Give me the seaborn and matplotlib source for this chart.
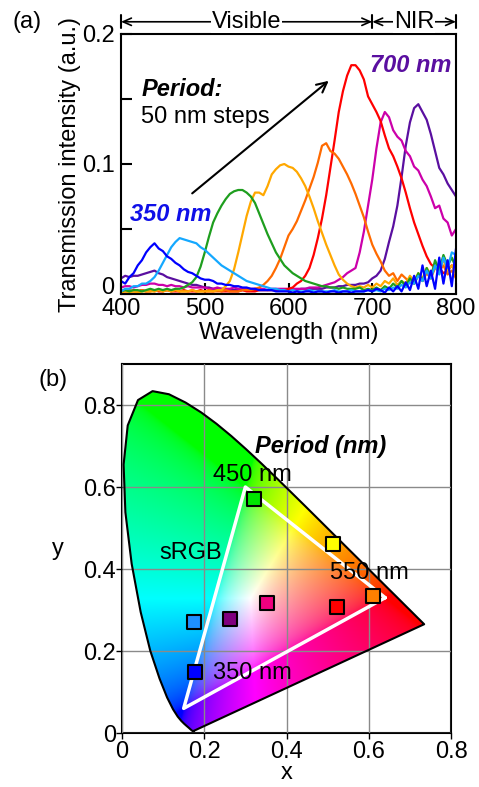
import numpy as np
import pandas as pd
import matplotlib
matplotlib.use("Agg")
import matplotlib.pyplot as plt
import matplotlib.transforms as mtransforms
from matplotlib.patches import Polygon
import seaborn as sns

# ---------------- (a) transmission spectra ----------------
wavelength = list(range(400, 801, 5))
periods = ["350 nm", "400 nm", "450 nm", "500 nm", "550 nm", "600 nm", "650 nm", "700 nm"]

spec_350 = [.010, .008, .013, .016, .022, .026, .032, .036, .039, .035,
            .033, .029, .027, .024, .022, .019, .017, .016, .014, .012,
            .011, .011, .010, .008, .008, .007, .007, .006, .006, .005,
            .005, .004, .004, .003, .003, .003, .003, .002, .002, .002,
            .002, .001, .002, .001, .002, .002, .001, .002, .002, .001,
            .002, .002, .001, .002, .002, .001, .002, .002, .002, .003,
            .002, .004, .003, .001, .005, .002, .006, .002, .009, .003,
            .014, .004, .022, .006, .018, .004, .028, .008, .026, .006,
            .035]
spec_400 = [.002, .004, .004, .006, .006, .008, .008, .010, .013, .018,
            .024, .030, .036, .040, .043, .042, .041, .040, .039, .036,
            .034, .031, .028, .025, .022, .020, .018, .016, .014, .012,
            .010, .009, .008, .007, .006, .005, .004, .004, .003, .003,
            .002, .003, .002, .002, .002, .003, .002, .002, .002, .002,
            .002, .003, .002, .002, .002, .003, .002, .002, .002, .003,
            .002, .003, .002, .004, .003, .005, .004, .007, .005, .009,
            .008, .014, .010, .018, .012, .022, .015, .028, .020, .032,
            .030]
spec_450 = [.002, .003, .002, .003, .003, .002, .003, .004, .003, .004,
            .003, .004, .003, .004, .004, .005, .007, .009, .013, .021,
            .032, .044, .055, .062, .068, .073, .077, .079, .080, .080,
            .078, .075, .070, .062, .054, .046, .039, .032, .027, .022,
            .019, .016, .014, .012, .010, .009, .008, .007, .006, .006,
            .005, .005, .004, .005, .004, .004, .004, .005, .003, .004,
            .003, .005, .003, .006, .004, .008, .005, .010, .006, .012,
            .008, .016, .010, .020, .012, .026, .018, .030, .022, .028,
            .020]
spec_500 = [.001, .002, .001, .002, .001, .002, .002, .002, .002, .003,
            .002, .003, .002, .003, .002, .002, .002, .003, .002, .002,
            .002, .002, .002, .003, .003, .006, .010, .019, .032, .046,
            .060, .071, .078, .078, .076, .083, .092, .096, .099, .100,
            .098, .097, .094, .089, .083, .075, .066, .056, .047, .038,
            .030, .022, .015, .011, .008, .006, .005, .006, .005, .007,
            .005, .008, .006, .010, .008, .012, .007, .010, .008, .014,
            .010, .016, .012, .020, .015, .024, .020, .026, .018, .022,
            .015]
spec_550 = [.002, .003, .002, .003, .002, .003, .002, .003, .002, .003,
            .002, .003, .002, .003, .002, .002, .002, .003, .002, .002,
            .002, .003, .002, .002, .002, .003, .002, .002, .002, .003,
            .003, .003, .004, .005, .007, .010, .014, .020, .027, .036,
            .045, .050, .056, .064, .072, .081, .090, .101, .114, .116,
            .110, .108, .104, .098, .092, .085, .077, .068, .059, .048,
            .038, .031, .025, .018, .014, .016, .010, .015, .012, .009,
            .008, .014, .010, .016, .012, .020, .018, .022, .015, .018,
            .012]
spec_600 = [.003, .002, .003, .002, .002, .003, .002, .002, .003, .002,
            .002, .003, .002, .002, .002, .003, .002, .002, .002, .003,
            .002, .002, .002, .003, .002, .002, .002, .002, .002, .003,
            .002, .002, .002, .003, .003, .003, .003, .003, .003, .003,
            .004, .005, .008, .010, .014, .020, .030, .043, .058, .076,
            .097, .118, .140, .156, .168, .176, .176, .172, .165, .152,
            .146, .140, .133, .122, .112, .106, .098, .089, .078, .066,
            .055, .046, .037, .029, .023, .020, .020, .016, .018, .022,
            .020]
spec_650 = [.005, .006, .006, .005, .006, .007, .007, .008, .008, .007,
            .007, .006, .007, .006, .006, .005, .006, .005, .005, .005,
            .005, .004, .004, .005, .004, .004, .004, .005, .004, .004,
            .004, .004, .004, .004, .004, .003, .004, .004, .004, .004,
            .004, .004, .004, .004, .004, .005, .005, .005, .006, .007,
            .008, .009, .011, .013, .016, .018, .020, .032, .048, .068,
            .088, .112, .132, .140, .136, .126, .121, .118, .110, .106,
            .098, .095, .088, .083, .075, .066, .068, .058, .055, .045,
            .050]
spec_700 = [.012, .014, .013, .014, .014, .015, .016, .017, .018, .016,
            .015, .013, .012, .011, .010, .009, .008, .007, .007, .006,
            .005, .005, .004, .004, .004, .004, .003, .003, .003, .003,
            .003, .003, .003, .003, .003, .003, .003, .003, .003, .003,
            .003, .003, .003, .004, .004, .004, .004, .004, .004, .005,
            .005, .005, .006, .006, .007, .007, .007, .008, .008, .009,
            .012, .014, .018, .027, .040, .052, .068, .090, .114, .132,
            .143, .146, .140, .134, .123, .110, .097, .092, .085, .080,
            .075]
spectra = [spec_350, spec_400, spec_450, spec_500, spec_550, spec_600, spec_650, spec_700]
line_colors = ["#0000FF", "#14A8FF", "#1E9E1E", "#FFA800", "#FF6A00", "#FF0000", "#CC00AA", "#5A0FA0"]

# ---------------- (b) chromaticity ----------------
locus_x = [0.1741, 0.1740, 0.1738, 0.1736, 0.1733, 0.1730, 0.1726, 0.1721, 0.1714, 0.1703,
           0.1689, 0.1669, 0.1644, 0.1611, 0.1566, 0.1510, 0.1440, 0.1355, 0.1241, 0.1096,
           0.0913, 0.0687, 0.0454, 0.0235, 0.0082, 0.0039, 0.0139, 0.0389, 0.0743, 0.1142,
           0.1547, 0.1929, 0.2296, 0.2658, 0.3016, 0.3373, 0.3731, 0.4087, 0.4441, 0.4788,
           0.5125, 0.5448, 0.5752, 0.6029, 0.6270, 0.6482, 0.6658, 0.6801, 0.6915, 0.7006,
           0.7079, 0.7140, 0.7190, 0.7230, 0.7260, 0.7283, 0.7300, 0.7311, 0.7320, 0.7327,
           0.7334, 0.7344, 0.7347]
locus_y = [0.0050, 0.0050, 0.0049, 0.0049, 0.0048, 0.0048, 0.0048, 0.0048, 0.0051, 0.0058,
           0.0069, 0.0086, 0.0109, 0.0138, 0.0177, 0.0227, 0.0297, 0.0399, 0.0578, 0.0868,
           0.1327, 0.2007, 0.2950, 0.4127, 0.5384, 0.6548, 0.7502, 0.8120, 0.8338, 0.8262,
           0.8059, 0.7816, 0.7543, 0.7243, 0.6923, 0.6589, 0.6245, 0.5896, 0.5547, 0.5202,
           0.4866, 0.4544, 0.4242, 0.3965, 0.3725, 0.3514, 0.3340, 0.3197, 0.3083, 0.2993,
           0.2920, 0.2859, 0.2809, 0.2770, 0.2740, 0.2717, 0.2700, 0.2689, 0.2680, 0.2673,
           0.2666, 0.2656, 0.2653]
srgb_x = [0.64, 0.30, 0.15]
srgb_y = [0.33, 0.60, 0.06]
pt_period = ["350 nm", "400 nm", "450 nm", "500 nm", "550 nm", "600 nm", "650 nm", "700 nm"]
pt_x = [0.178, 0.175, 0.321, 0.513, 0.610, 0.523, 0.353, 0.263]
pt_y = [0.149, 0.271, 0.571, 0.461, 0.334, 0.307, 0.317, 0.278]
pt_colors = ["#0000FF", "#1E8FFF", "#00E600", "#FFFF00", "#FF8000", "#FF0000", "#F0007F", "#800080"]

# ---------------- style ----------------
sns.set_theme(style="ticks")
plt.rcParams['font.family'] = ['Liberation Sans', 'DejaVu Sans']
plt.rcParams.update({"text.color": "black", "axes.labelcolor": "black",
                     "xtick.color": "black", "ytick.color": "black",
                     "axes.edgecolor": "black"})
FS = 17

fig = plt.figure(figsize=(4.79, 7.87), dpi=100)
W, H = 479, 787
ax1 = fig.add_axes([121 / W, 1 - 294 / H, 335 / W, 260 / H])
ax2 = fig.add_axes([122 / W, 1 - 733 / H, 329 / W, 369 / H])

# ----- panel (a) -----
rows = []
for p, s in zip(periods, spectra):
    for w, v in zip(wavelength, s):
        rows.append((p, w, v))
df = pd.DataFrame(rows, columns=["period", "wavelength", "intensity"])
draw_order = periods[::-1]
pal = dict(zip(periods, line_colors))
sns.lineplot(data=df, x="wavelength", y="intensity", hue="period", hue_order=draw_order,
             palette=pal, estimator=None, legend=False, linewidth=1.6, ax=ax1)
ax1.set_xlim(400, 800)
ax1.set_ylim(0, 0.2)
ax1.set_xticks(range(400, 801, 100))
ax1.set_yticks([0, 0.05, 0.1, 0.15, 0.2])
ax1.set_yticklabels(["0", "", "0.1", "", "0.2"])
ax1.tick_params(direction="in", length=8, width=1.5, labelsize=FS, colors="black")
ax1.tick_params(axis="x", pad=3)
ax1.tick_params(axis="y", pad=4.5)
for sp in ax1.spines.values():
    sp.set_visible(True)
    sp.set_linewidth(1.5)
    sp.set_color("black")
ax1.set_xlabel("Wavelength (nm)", fontsize=FS)
ax1.set_ylabel("Transmission intensity (a.u.)", fontsize=FS)
ax1.xaxis.set_label_coords(0.5, -0.108)
ax1.yaxis.set_label_coords(-0.118, 0.5)
# nudge the "0" label up, as in the original
zero_lab = ax1.yaxis.get_major_ticks()[0].label1
zero_lab.set_transform(zero_lab.get_transform() +
                       mtransforms.ScaledTranslation(0, 6 / 72, fig.dpi_scale_trans))

# header arrows
tr = mtransforms.blended_transform_factory(ax1.transData, ax1.transAxes)
yh = 1.047
arrst = "<->,head_length=0.5,head_width=0.22"
ax1.annotate("", xy=(400, yh), xytext=(700, yh), xycoords=tr, textcoords=tr,
             arrowprops=dict(arrowstyle=arrst, lw=1.2, color="black", shrinkA=0, shrinkB=0))
ax1.annotate("", xy=(700, yh), xytext=(800, yh), xycoords=tr, textcoords=tr,
             arrowprops=dict(arrowstyle=arrst, lw=1.2, color="black", shrinkA=0, shrinkB=0))
for xb in (400, 700, 800):
    ax1.plot([xb, xb], [1.022, 1.072], transform=tr, color="black", lw=1.5, clip_on=False)
ax1.text(550, yh, "Visible", transform=tr, ha="center", va="center", fontsize=FS,
         bbox=dict(facecolor="white", edgecolor="none", pad=0.5))
ax1.text(750, yh, "NIR", transform=tr, ha="center", va="center", fontsize=FS,
         bbox=dict(facecolor="white", edgecolor="none", pad=0.5))

ax1.annotate("", xy=(648, 0.164), xytext=(485, 0.0774),
             arrowprops=dict(arrowstyle="->,head_length=0.6,head_width=0.3", lw=1.5, color="black",
                             shrinkA=0, shrinkB=0))
ax1.text(424, 0.157, "Period:", fontsize=FS, fontweight="bold", fontstyle="italic", va="center")
ax1.text(424, 0.1364, "50 nm steps", fontsize=FS, va="center")
ax1.text(410.5, 0.0608, "350 nm", fontsize=FS, fontweight="bold", fontstyle="italic",
         va="center", color="#1010E8")
ax1.text(697, 0.176, "700 nm", fontsize=FS, fontweight="bold", fontstyle="italic",
         va="center", color="#5A0FA0")

# ----- panel (b) -----
nx, ny = 420, 470
gx = np.linspace(0, 0.8, nx)
gy = np.linspace(0.0005, 0.9, ny)
GX, GY = np.meshgrid(gx, gy)
GZ = 1 - GX - GY
M = np.array([[3.2406, -1.5372, -0.4986],
              [-0.9689, 1.8758, 0.0415],
              [0.0557, -0.2040, 1.0570]])
XYZ = np.stack([GX, GY, GZ], axis=-1)
rgb = XYZ @ M.T
rgb = np.clip(rgb, 0, None)
mx = rgb.max(axis=-1, keepdims=True)
mx[mx == 0] = 1
rgb = rgb / mx
rgb = np.where(rgb <= 0.0031308, 12.92 * rgb, 1.055 * np.power(rgb, 1 / 2.4) - 0.055)
rgb = np.clip(rgb, 0, 1)

img = ax2.imshow(rgb, origin="lower", extent=(0, 0.8, 0, 0.9), interpolation="bilinear",
                 zorder=0, aspect="auto")
poly = Polygon(np.column_stack([locus_x, locus_y]), closed=True, transform=ax2.transData,
               facecolor="none", edgecolor="none")
ax2.add_patch(poly)
img.set_clip_path(poly)
ax2.plot(locus_x + [locus_x[0]], locus_y + [locus_y[0]], color="black", lw=1.5, zorder=3)

sns.lineplot(x=srgb_x + [srgb_x[0]], y=srgb_y + [srgb_y[0]], sort=False, estimator=None,
             color="white", linewidth=2.5, ax=ax2, zorder=3)
sns.scatterplot(x=pt_x, y=pt_y, hue=pt_period, palette=dict(zip(pt_period, pt_colors)),
                marker="s", s=95, edgecolor="black", linewidth=1.5, legend=False, ax=ax2, zorder=4)

ax2.set_xlim(0, 0.8)
ax2.set_ylim(0, 0.9)
ax2.set_xticks([0, 0.2, 0.4, 0.6, 0.8])
ax2.set_xticklabels(["0", "0.2", "0.4", "0.6", "0.8"])
ax2.set_yticks([0, 0.2, 0.4, 0.6, 0.8])
ax2.set_yticklabels(["0", "0.2", "0.4", "0.6", "0.8"])
ax2.tick_params(direction="out", length=4, width=1, labelsize=FS, colors="black")
ax2.tick_params(axis="x", pad=2)
ax2.tick_params(axis="y", pad=0.5)
ax2.set_axisbelow(False)
ax2.grid(True, color="#8a8a8a", lw=1)
for sp in ax2.spines.values():
    sp.set_visible(True)
    sp.set_linewidth(1.5)
    sp.set_color("black")
ax2.set_xlabel("x", fontsize=FS)
ax2.set_ylabel("y", fontsize=FS, rotation=0, ha="center", va="center")
ax2.xaxis.set_label_coords(0.5, -0.078)
ax2.yaxis.set_label_coords(-0.195, 0.50)

ax2.text(0.324, 0.698, "Period (nm)", fontsize=FS, fontweight="bold", fontstyle="italic",
         va="center", zorder=5)
ax2.text(0.222, 0.629, "450 nm", fontsize=FS, va="center", zorder=5)
ax2.text(0.091, 0.439, "sRGB", fontsize=FS, va="center", zorder=5)
ax2.text(0.506, 0.390, "550 nm", fontsize=FS, va="center", zorder=5)
ax2.text(0.222, 0.146, "350 nm", fontsize=FS, va="center", zorder=5)

fig.text(12 / W, 1 - 22 / H, "(a)", fontsize=FS, va="center", ha="left")
fig.text(38 / W, 1 - 380 / H, "(b)", fontsize=FS, va="center", ha="left")

fig.savefig("out.png", dpi=100, facecolor="white")
